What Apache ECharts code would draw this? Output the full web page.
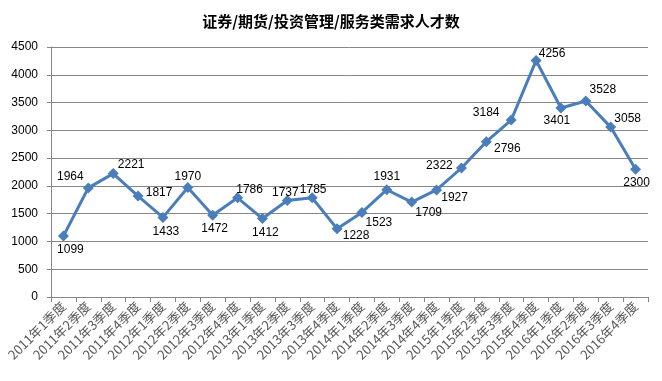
<!DOCTYPE html>
<html><head><meta charset="utf-8">
<script src="https://cdn.jsdelivr.net/npm/echarts@6/dist/echarts.min.js"></script>
<style>html,body{margin:0;padding:0;background:#fff}#c{width:662px;height:381px}</style>
</head><body><div id="c"></div>
<script>
var categories = ['2011年1季度','2011年2季度','2011年3季度','2011年4季度','2012年1季度','2012年2季度','2012年3季度','2012年4季度','2013年1季度','2013年2季度','2013年3季度','2013年4季度','2014年1季度','2014年2季度','2014年3季度','2014年4季度','2015年1季度','2015年2季度','2015年3季度','2015年4季度','2016年1季度','2016年2季度','2016年3季度','2016年4季度'];
var values = [1099,1964,2221,1817,1433,1970,1472,1786,1412,1737,1785,1228,1523,1931,1709,1927,2322,2796,3184,4256,3401,3528,3058,2300];
var yTicks = [0,500,1000,1500,2000,2500,3000,3500,4000,4500];
// label offsets (styling only)
var labelOffsets = [[7,14],[-18,-11],[18,-9],[21,-3],[3,14],[0,-11],[2,13],[12,-8],[3,14],[-2,-8],[1,-8],[19,7],[17,10],[0,-13],[17,11],[18,8],[-22,-2],[21,7],[-25,-7],[16,-7],[-4,13],[17,-11],[17,-8],[1,13]];

var chart = echarts.init(document.getElementById('c'), null, {renderer:'canvas'});
var data = values.map(function(v,i){
  return {value:v, label:{offset:labelOffsets[i]}};
});
chart.setOption({
  animation:false,
  title:{text:'证券/期货/投资管理/服务类需求人才数', left:'center', top:9,
    textStyle:{fontFamily:'Noto Sans CJK SC', fontSize:15, fontWeight:'bold', color:'#000'}},
  grid:{left:51, right:14, top:47, bottom:84},
  xAxis:{type:'category', data:categories, boundaryGap:true,
    axisLine:{lineStyle:{color:'#868686', width:1}},
    axisTick:{show:true, length:5, alignWithLabel:false, lineStyle:{color:'#868686'}},
    axisLabel:{rotate:45, interval:0, fontFamily:'Noto Sans CJK SC', fontSize:13, color:'#595959', margin:7}},
  yAxis:{type:'value', min:yTicks[0], max:yTicks[yTicks.length-1], interval:500,
    axisLine:{show:true, lineStyle:{color:'#868686'}},
    axisTick:{show:true, length:4, lineStyle:{color:'#868686'}},
    splitLine:{lineStyle:{color:'#868686', width:1}},
    axisLabel:{fontFamily:'Liberation Sans', fontSize:12, color:'#000', margin:13,
      formatter:function(v){return String(v);}}},
  series:[{type:'line', data:data, symbol:'diamond', symbolSize:11,
    lineStyle:{color:'#4A7EBB', width:3},
    itemStyle:{color:'#4A7EBB'},
    label:{show:true, position:'inside', fontFamily:'Liberation Sans', fontSize:12, color:'#000'}}]
});
</script></body></html>
